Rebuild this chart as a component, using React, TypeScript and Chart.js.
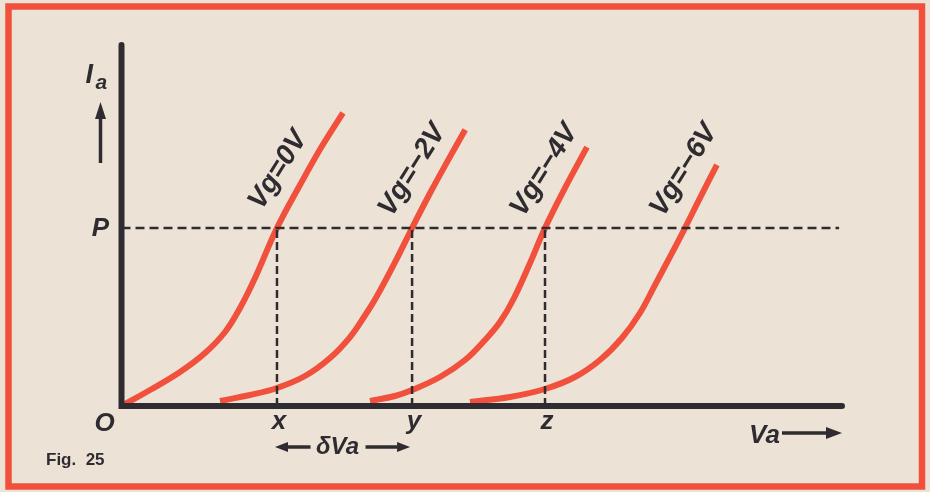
import React, { useEffect, useRef } from "react";
import { Chart, registerables } from "chart.js";

Chart.register(...registerables);

// ---- data (Va on x, Ia on y, arbitrary units 0..100) ----
const curveLabels = ["Vg=0V", "Vg=\u22122V", "Vg=\u22124V", "Vg=\u22126V"];

const vg0: [number, number][] = [
  [0, 0], [3.96, 4.43], [8.12, 9.42], [11.59, 14.68], [14.37, 20.5], [16.45, 27.15],
  [18.53, 35.46], [21.58, 49.3], [24.77, 61.2], [27.83, 72.0], [30.74, 81.2],
];
const vgMinus2: [number, number][] = [
  [13.67, 1.39], [17.83, 3.05], [21.58, 4.99], [25.47, 8.31], [28.94, 13.3], [31.72, 19.1],
  [33.7, 24.8], [35.3, 29.9], [37.9, 39.6], [40.33, 49.3], [42.83, 59.0], [45.33, 68.1], [47.7, 76.5],
];
const vgMinus4: [number, number][] = [
  [34.49, 1.39], [37.96, 2.77], [40.33, 4.43], [44.2, 8.03], [47.68, 12.74], [50.45, 18.28],
  [52.53, 23.27], [54.34, 29.36], [56.7, 39.6], [58.78, 49.3], [61.56, 60.4], [64.6, 71.7],
];
const vgMinus6: [number, number][] = [
  [48.37, 1.11], [53.92, 2.49], [58.78, 4.71], [62.94, 8.03], [66.41, 12.74], [69.46, 18.84],
  [71.96, 25.76], [74.04, 33.5], [76.12, 41.3], [78.2, 49.3], [80.28, 57.6], [82.64, 66.8],
];
const curves = [vg0, vgMinus2, vgMinus4, vgMinus6];

const pointP = 49.3; // Ia level P
const crossX = [21.58, 40.33, 58.78]; // Va at x, y, z
const crossLabels = ["x", "y", "z"];
const pLineEnd = 99.6;
const labelLevel = 66.2; // Ia level where the Vg labels sit
const vaMax = 100;
const iaMax = 100;

// ---- styles ----
const PAPER = "#ece3d6";
const RED = "#f0503c";
const INK = "#2f2c31";
const FONT = '"Liberation Sans", Arial, sans-serif';

function arrow(ctx: CanvasRenderingContext2D, x1: number, y1: number, x2: number, y2: number, head: number, hw: number, lw: number) {
  const a = Math.atan2(y2 - y1, x2 - x1);
  const bx = x2 - Math.cos(a) * head;
  const by = y2 - Math.sin(a) * head;
  ctx.beginPath();
  ctx.lineWidth = lw;
  ctx.moveTo(x1, y1);
  ctx.lineTo(bx, by);
  ctx.stroke();
  ctx.beginPath();
  ctx.moveTo(x2, y2);
  ctx.lineTo(bx + Math.sin(a) * hw / 2, by - Math.cos(a) * hw / 2);
  ctx.lineTo(bx - Math.sin(a) * hw / 2, by + Math.cos(a) * hw / 2);
  ctx.closePath();
  ctx.fill();
}

const paperPlugin = {
  id: "paper",
  beforeDraw(chart: any) {
    const { ctx, width, height } = chart;
    ctx.save();
    ctx.fillStyle = PAPER;
    ctx.fillRect(0, 0, width, height);
    ctx.strokeStyle = RED;
    ctx.lineWidth = 6.5;
    ctx.strokeRect(8.5, 6.5, width - 16.5, height - 12);
    ctx.restore();
  },
  afterDatasetsDraw(chart: any) {
    const { ctx, chartArea } = chart;
    const xs = chart.scales.x;
    const ys = chart.scales.y;
    const x0 = xs.getPixelForValue(0);
    const y0 = ys.getPixelForValue(0);
    ctx.save();
    ctx.strokeStyle = INK;
    ctx.fillStyle = INK;
    // axes
    ctx.lineWidth = 6;
    ctx.lineJoin = "miter";
    ctx.lineCap = "round";
    ctx.beginPath();
    ctx.moveTo(x0, chartArea.top);
    ctx.lineTo(x0, y0);
    ctx.lineTo(chartArea.right, y0);
    ctx.stroke();
    ctx.lineCap = "butt";

    // curve labels
    ctx.font = `bold italic 28px ${FONT}`;
    ctx.textAlign = "center";
    ctx.textBaseline = "middle";
    const ty = ys.getPixelForValue(labelLevel);
    curves.forEach((_, i) => {
      const meta = chart.getDatasetMeta(4 + i);
      const pts = meta.data;
      let tx = pts[pts.length - 1].x;
      for (let k = 1; k < pts.length; k++) {
        const a = pts[k - 1], b = pts[k];
        if ((a.y - ty) * (b.y - ty) <= 0 && a.y !== b.y) {
          tx = a.x + ((ty - a.y) / (b.y - a.y)) * (b.x - a.x);
          break;
        }
      }
      ctx.save();
      ctx.translate(tx - 32, ty + 3);
      ctx.rotate((-58 * Math.PI) / 180);
      ctx.fillText(curveLabels[i], 0, 0);
      ctx.restore();
    });

    // Ia label + arrow
    ctx.textAlign = "left";
    ctx.textBaseline = "alphabetic";
    ctx.font = `bold italic 27px ${FONT}`;
    ctx.fillText("I", x0 - 36, chartArea.top + 38);
    ctx.font = `bold italic 21px ${FONT}`;
    ctx.fillText("a", x0 - 26, chartArea.top + 44);
    arrow(ctx, x0 - 21, chartArea.top + 118, x0 - 21, chartArea.top + 57, 17, 11, 3.5);

    // P and O
    ctx.font = `bold italic 26px ${FONT}`;
    ctx.textAlign = "center";
    ctx.textBaseline = "middle";
    ctx.fillText("P", x0 - 21, ys.getPixelForValue(pointP) + 1);
    ctx.fillText("O", x0 - 17, y0 + 18);

    // x, y, z
    ctx.font = `bold italic 26px ${FONT}`;
    crossX.forEach((v, i) => {
      ctx.fillText(crossLabels[i], xs.getPixelForValue(v) + 2, y0 + 16);
    });

    // dVa with arrows
    const xa = xs.getPixelForValue(crossX[0]);
    const xb = xs.getPixelForValue(crossX[1]);
    const ay = y0 + 41;
    ctx.font = `bold italic 24px ${FONT}`;
    const mid = (xa + xb) / 2 - 7;
    ctx.fillText("\u03b4Va", mid, ay);
    arrow(ctx, mid - 27, ay, xa - 2, ay, 13, 10, 3.5);
    arrow(ctx, mid + 28, ay, xb - 2, ay, 13, 10, 3.5);

    // Va axis title
    ctx.font = `bold italic 26px ${FONT}`;
    ctx.textAlign = "left";
    ctx.textBaseline = "middle";
    ctx.fillText("Va", chartArea.right - 93, y0 + 30);
    arrow(ctx, chartArea.right - 60, y0 + 27, chartArea.right, y0 + 27, 16, 12, 3.5);

    // Fig. 25
    ctx.font = `bold 17px ${FONT}`;
    ctx.textAlign = "left";
    ctx.textBaseline = "alphabetic";
    ctx.fillText("Fig.  25", 46, y0 + 59);
    ctx.restore();
  },
};

export default function App() {
  const ref = useRef<HTMLCanvasElement | null>(null);
  useEffect(() => {
    if (!ref.current) return;
    const dashed = { borderColor: INK, borderWidth: 2.5, pointRadius: 0, showLine: true, tension: 0, clip: false as any };
    const datasets: any[] = [
      { ...dashed, borderDash: [9, 5], data: [{ x: 0, y: pointP }, { x: pLineEnd, y: pointP }] },
      ...crossX.map((v) => ({ ...dashed, borderDash: [8, 4], data: [{ x: v, y: 0 }, { x: v, y: pointP }] })),
      ...curves.map((c, i) => ({
        label: curveLabels[i],
        data: c.map(([x, y]) => ({ x, y })),
        borderColor: RED,
        borderWidth: 6,
        pointRadius: 0,
        showLine: true,
        tension: 0.4,
        clip: false,
      })),
    ];
    const chart = new Chart(ref.current, {
      type: "scatter",
      data: { datasets },
      options: {
        animation: false,
        responsive: false,
        layout: { padding: { left: 121.5, right: 88, top: 45, bottom: 86 } },
        plugins: { legend: { display: false }, tooltip: { enabled: false } },
        events: [],
        scales: {
          x: { type: "linear", min: 0, max: vaMax, display: false },
          y: { type: "linear", min: 0, max: iaMax, display: false },
        },
      },
      plugins: [paperPlugin],
    });
    return () => chart.destroy();
  }, []);
  return (
    <div style={{ position: "fixed", left: 0, top: 0, width: 930, height: 492 }}>
      <canvas ref={ref} width={930} height={492} style={{ display: "block" }} />
    </div>
  );
}
